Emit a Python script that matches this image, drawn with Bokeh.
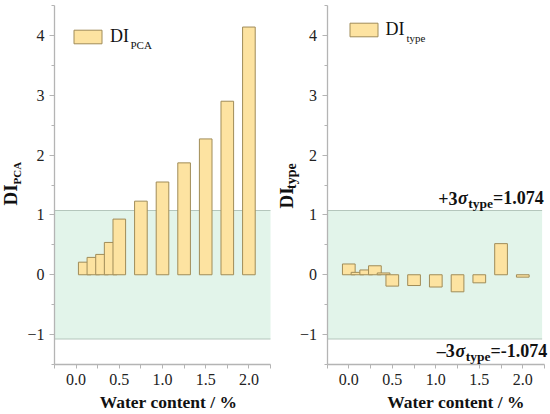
import math
from bokeh.plotting import figure
from bokeh.models import (FixedTicker, BoxAnnotation, Label, Legend,
                          LegendItem, Range1d, LinearAxis, CustomJSTickFormatter)
from bokeh.layouts import row
from bokeh.embed import file_html
from bokeh.resources import INLINE

# ---------------- data ----------------
water_pca = [0.1, 0.2, 0.3, 0.4, 0.5, 0.75, 1.0, 1.25, 1.5, 1.75, 2.0]
di_pca = [0.21, 0.29, 0.34, 0.54, 0.93, 1.23, 1.55, 1.87, 2.27, 2.90, 4.14]
water_type = [0.0, 0.1, 0.2, 0.3, 0.4, 0.5, 0.75, 1.0, 1.25, 1.5, 1.75, 2.0]
di_type = [0.18, 0.04, 0.08, 0.15, 0.03, -0.19, -0.18, -0.205, -0.285, -0.135, 0.52, -0.04]
sigma_limit = 1.074
y_ticks = [-1, 0, 1, 2, 3, 4]
y_minor = [-1.5, -0.5, 0.5, 1.5, 2.5, 3.5, 4.5]
y_tick_labels = ["\u22121", "0", "1", "2", "3", "4"]
x_ticks = [0, 0.5, 1, 1.5, 2]
x_minor = [-0.25, 0.25, 0.75, 1.25, 1.75, 2.25]
x_tick_labels = ["0.0", "0.5", "1.0", "1.5", "2.0"]
x_title = "Water content / %"

# ---------------- style ----------------
FONT = "Liberation Serif"
BAR_FILL = "#FDE3A1"
BAR_LINE = "#A08C58"
BAND_FILL = "#E2F4EA"
BAND_LINE = "#B4C6BC"
AXIS_COLOR = "#B4B4B4"
TEXT = "#111111"
BAR_W = 0.146
BASE_SHIFT = 0.36   # renderer places the glyph middle near the anchor

X_MIN, X_MAX = -0.25, 2.25
Y_MIN, Y_MAX = -1.5, 4.5
FIG_H = 414
FRAME_TOP_PX = 5
FRAME_BOTTOM_PX = 364
PX_PER_Y = (FRAME_BOTTOM_PX - FRAME_TOP_PX) / (Y_MAX - Y_MIN)
SPLIT = 275  # page x where the right figure starts

# Liberation Serif Bold advance widths (per 1000 em) for annotation layout
BOLD_W = {"+": 570, "3": 500, "=": 570, "1": 500, ".": 250, "0": 500,
          "7": 500, "4": 500, "\u2013": 500, "-": 333, "t": 333, "y": 500,
          "p": 556, "e": 444, "\u03c3": 550}


def text_w(s, size):
    return sum(BOLD_W.get(c, 500) for c in s) * size / 1000.0


def fmt(tvals, tlabels):
    return CustomJSTickFormatter(args=dict(tvals=tvals, tlabels=tlabels), code="""
        const i = tvals.indexOf(tick);
        return i >= 0 ? tlabels[i] : "";
    """)


def make_panel(width, page_left, axis_left_page, px_per_x, band_right):
    axis_left_px = axis_left_page - page_left
    x_start = X_MIN - axis_left_px / px_per_x
    x_end = x_start + width / px_per_x
    y_end = Y_MAX + FRAME_TOP_PX / PX_PER_Y
    y_start = y_end - FIG_H / PX_PER_Y
    p = figure(width=width, height=FIG_H, x_range=Range1d(x_start, x_end),
               y_range=Range1d(y_start, y_end), output_backend="svg",
               toolbar_location=None, x_axis_location=None,
               y_axis_location=None, min_border=0)
    p.outline_line_color = None
    p.grid.visible = False
    p.background_fill_color = "white"
    p.border_fill_color = "white"

    xa = LinearAxis(fixed_location=Y_MIN, bounds=(X_MIN, X_MAX),
                    ticker=FixedTicker(ticks=x_ticks, minor_ticks=x_minor),
                    formatter=fmt(x_ticks, x_tick_labels))
    ya = LinearAxis(fixed_location=X_MIN, bounds=(Y_MIN, Y_MAX),
                    ticker=FixedTicker(ticks=y_ticks, minor_ticks=y_minor),
                    formatter=fmt(y_ticks, y_tick_labels))
    for ax in (xa, ya):
        ax.axis_line_color = AXIS_COLOR
        ax.axis_line_width = 1.3
        ax.major_tick_line_color = AXIS_COLOR
        ax.minor_tick_line_color = AXIS_COLOR
        ax.major_tick_in = 0
        ax.minor_tick_in = 0
        ax.major_label_text_font = FONT
        ax.major_label_text_font_size = "16px"
        ax.major_label_text_color = "#222222"
    ya.major_tick_out = 5
    ya.minor_tick_out = 3
    ya.major_label_standoff = 5
    xa.major_tick_out = 4
    xa.minor_tick_out = 4
    xa.major_label_standoff = 5
    p.add_layout(xa, "below")
    p.add_layout(ya, "left")

    p.add_layout(BoxAnnotation(left=X_MIN, right=band_right,
                               bottom=-sigma_limit, top=sigma_limit,
                               fill_color=BAND_FILL, fill_alpha=1.0,
                               line_color=None, level="underlay"))
    p.segment(x0=[X_MIN, X_MIN], x1=[band_right, band_right],
              y0=[sigma_limit, -sigma_limit], y1=[sigma_limit, -sigma_limit],
              line_color=BAND_LINE, line_width=1.2)

    def dx(px):
        return x_start + (px - page_left) / px_per_x

    def dy(py):
        return y_end - py / PX_PER_Y

    def label(px, py, text, size, style="normal", rotated=False, align="left"):
        shift = BASE_SHIFT * size
        if rotated:
            px -= shift
        else:
            py -= shift
        p.add_layout(Label(x=dx(px), y=dy(py), text=text, text_font=FONT,
                           text_font_size=f"{size}px", text_font_style=style,
                           text_color=TEXT,
                           angle=math.pi / 2 if rotated else 0.0,
                           text_align=align, text_baseline="alphabetic"))

    return p, label


def add_bars(p, xs, ys, legend_loc):
    r = p.vbar(x=xs, top=ys, bottom=0, width=BAR_W, fill_color=BAR_FILL,
               line_color=BAR_LINE, line_width=1)
    lg = Legend(items=[LegendItem(label="DI", renderers=[r])],
                location=legend_loc, border_line_color=None,
                background_fill_alpha=0, glyph_width=35, glyph_height=17,
                label_height=17, label_standoff=5, padding=0, margin=0,
                spacing=0, label_text_font=FONT, label_text_font_size="18px",
                label_text_color=TEXT)
    p.add_layout(lg)
    return r


def sigma_note(label, right_px, base_py, sub_py, prefix, value_text):
    main, sub = 18, 13.5
    x = right_px
    label(x, base_py, value_text, main, "bold", align="right")
    x -= text_w(value_text, main)
    label(x, sub_py, "type", sub, "bold", align="right")
    x -= text_w("type", sub) + 0.5
    label(x, base_py, "\u03c3", main, "bold italic", align="right")
    x -= text_w("\u03c3", main) + 0.5
    label(x, base_py, prefix, main, "bold", align="right")


# ---------------- left panel ----------------
pl, lab_l = make_panel(SPLIT, 0, 54, 86.4, X_MAX)
add_bars(pl, water_pca, di_pca, (70, 367))
lab_l(130, 48.3, "PCA", 11)
lab_l(16.7, 205, "DI", 19, "bold", rotated=True)
lab_l(20.5, 184, "PCA", 11, "bold", rotated=True)
lab_l(168, 408, x_title, 17.5, "bold", align="center")

# ---------------- right panel ----------------
pr, lab_r = make_panel(550 - SPLIT, SPLIT, 326.55, 87.0, 2.222)
add_bars(pr, water_type, di_type, (348 - SPLIT - 2.5, 374))
lab_r(406, 41.5, "type", 11)
lab_r(292.5, 208, "DI", 19, "bold", rotated=True)
lab_r(296, 188.5, "type", 14, "bold", rotated=True)
lab_r(455.5, 408, x_title, 17.5, "bold", align="center")

sigma_note(lab_r, 543.3, 204, 208, "+3", "=" + f"{sigma_limit:.3f}")
sigma_note(lab_r, 546.7, 356.7, 360.5, "\u20133", "=-" + f"{sigma_limit:.3f}")

layout = row(pl, pr)
open("out.html", "w").write(file_html(layout, INLINE))
